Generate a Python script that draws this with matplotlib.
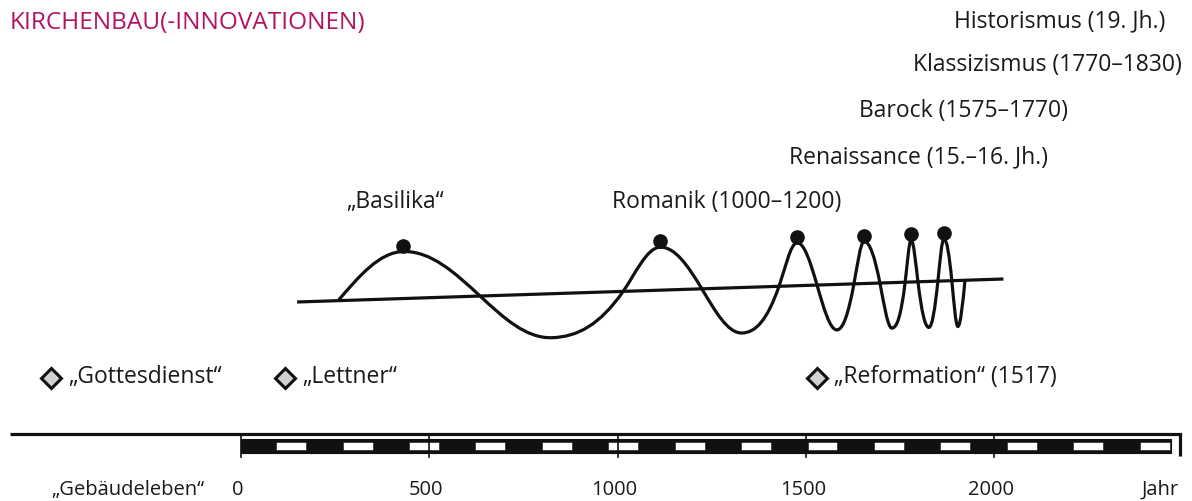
import numpy as np
import matplotlib
matplotlib.use("Agg")
import matplotlib.pyplot as plt
from matplotlib.path import Path
from matplotlib.patches import PathPatch, Rectangle

plt.rcParams['font.family'] = ['Open Sans', 'DejaVu Sans']

# --- data -------------------------------------------------------------
title = "KIRCHENBAU(-INNOVATIONEN)"

# innovation wave: zero crossings / extrema (year, offset from trend line)
wave_years = [258, 430, 635, 826, 1015, 1113, 1224, 1331, 1429, 1477, 1530,
              1583, 1628, 1655, 1697, 1729, 1764, 1780, 1798, 1827, 1851,
              1867, 1888, 1904, 1923]
wave_offsets = [0, 47, 0, -44, 0, 43, 0, -45.5, 0, 43, 0, -45.5, 0, 42, 0,
                -45.5, 0, 42, 0, -46, 0, 42, 0, -46, 0]

# slanted trend line (start/end year and level)
trend_years = [149, 2025]
trend_levels = [199, 222]

peak_years = [430, 1113, 1477, 1655, 1780, 1867]
peak_labels = ["„Basilika“", "Romanik (1000–1200)", "Renaissance (15.–16. Jh.)",
               "Barock (1575–1770)", "Klassizismus (1770–1830)",
               "Historismus (19. Jh.)"]

event_labels = ["„Gottesdienst“", "„Lettner“", "„Reformation“ (1517)"]
event_years = [-505, 117, 1530]

tick_years = [0, 500, 1000, 1500, 2000]
tick_labels = ["0", "500", "1000", "1500", "2000"]
scale_end = 2470
n_segments = 14

# --- figure -----------------------------------------------------------
W, H = 1192, 501
fig = plt.figure(figsize=(W / 100, H / 100), dpi=100)
ax = fig.add_axes([0, 0, 1, 1])
px_per_year = 0.3765
x0 = -241 / px_per_year
ax.set_xlim(x0, x0 + W / px_per_year)
ax.set_ylim(0, H)
ax.axis("off")

ink = "#111111"
txt = "#1a1a1a"
fs = 16.5
fs_small = 14.5


def trend(year):
    return np.interp(year, trend_years, trend_levels)


# trend line
ax.plot(trend_years, trend_levels, color=ink, lw=2.3, solid_capstyle="butt")

# wave: smooth cubic bezier through crossings and extrema
n = len(wave_years)
slopes = np.zeros(n)
for i in range(n):
    if wave_offsets[i] != 0:
        continue
    cand = []
    if i > 0:
        cand.append(-1.5708 * wave_offsets[i - 1] / (wave_years[i] - wave_years[i - 1]))
    if i < n - 1:
        cand.append(1.5708 * wave_offsets[i + 1] / (wave_years[i + 1] - wave_years[i]))
    slopes[i] = np.mean(cand)

verts = [(wave_years[0], trend(wave_years[0]) + wave_offsets[0])]
codes = [Path.MOVETO]
for i in range(n - 1):
    xa, xb = wave_years[i], wave_years[i + 1]
    oa, ob = wave_offsets[i], wave_offsets[i + 1]
    dx = xb - xa
    if oa == 0:  # crossing -> extremum
        h = 0.326 * dx
        c1 = (xa + h, oa + slopes[i] * h)
        c2 = (xb - 0.362 * dx, ob)
    else:  # extremum -> crossing
        h = 0.326 * dx
        c1 = (xa + 0.362 * dx, oa)
        c2 = (xb - h, ob - slopes[i + 1] * h)
    for (cx, co) in (c1, c2, (xb, ob)):
        verts.append((cx, trend(cx) + co))
        codes.append(Path.CURVE4)
ax.add_patch(PathPatch(Path(verts, codes), fill=False, lw=2.3, edgecolor=ink,
                       capstyle="butt", joinstyle="round"))

# dots on the peaks
peak_tops = [trend(y) + o for y, o in zip(wave_years, wave_offsets)
             if y in peak_years]
ax.plot(peak_years, np.array(peak_tops) + 6, "o", color=ink, ms=9.5, zorder=5)

# peak labels (layout positions in year / level)
label_pos = [(410, 299.5), (1291, 299.5), (1799, 344), (1919, 390),
             (2143, 436), (2174, 480)]
for lab, (lx, ly) in zip(peak_labels, label_pos):
    ax.text(lx, ly, lab, ha="center", va="center", fontsize=fs, color=txt)

# events with diamonds
for lab, ey in zip(event_labels, event_years):
    ax.plot(ey, 123, "D", ms=10.5, mfc="#d2d2d2", mec=ink, mew=2.2, zorder=5)
    ax.text(ey + 17 / px_per_year, 124, lab, ha="left", va="center",
            fontsize=fs, color=txt)

# time scale
ax.plot([-614, 2494, 2494], [67, 67, 45], color=ink, lw=2.3,
        solid_joinstyle="miter", solid_capstyle="butt")
ax.add_patch(Rectangle((0, 48), scale_end, 14, facecolor=ink, edgecolor=ink,
                       lw=0.8))
seg = scale_end / n_segments
for k in range(n_segments):
    ax.add_patch(Rectangle((k * seg + 0.53 * seg, 50.7), 0.45 * seg, 8.1,
                           facecolor="white", edgecolor=ink, lw=0.4, zorder=3))
for ty in tick_years:
    ax.plot([ty, ty], [44, 66], color=ink, lw=1.2, zorder=4)
for ty, tl in zip(tick_years, tick_labels):
    ax.text(ty - 3 / px_per_year, 11, tl, ha="center", va="center",
            fontsize=fs_small, color=txt)
ax.text(-301, 11, "„Gebäudeleben“", ha="center", va="center",
        fontsize=fs_small, color=txt)
ax.text(2441, 11, "Jahr", ha="center", va="center", fontsize=fs_small,
        color=txt)

ax.text(-614, 478.5, title, ha="left", va="center", fontsize=17.6,
        color="#b3145f")

fig.savefig("out.png", dpi=100)
